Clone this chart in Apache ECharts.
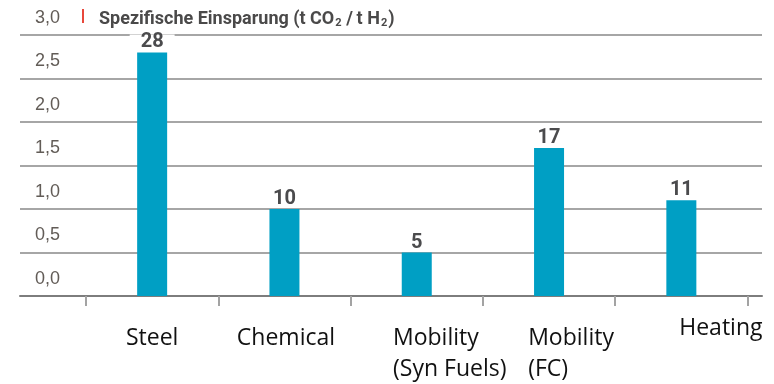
<!DOCTYPE html>
<html>
<head>
<meta charset="utf-8">
<script src="https://cdn.jsdelivr.net/npm/echarts@6/dist/echarts.min.js"></script>
<style>
  html, body { margin: 0; padding: 0; background: #ffffff; }
  #chart { width: 774px; height: 384px; }
</style>
</head>
<body>
<div id="chart"></div>
<script>
// Savings per sector (bar values shown above the bars)
const categories = ['Steel', 'Chemical', 'Mobility\n(Syn Fuels)', 'Mobility\n(FC)', 'Heating'];
const savings = [28, 10, 5, 17, 11];
const yTickLabels = ['0,0', '0,5', '1,0', '1,5', '2,0', '2,5', '3,0'];
const yMin = 0;
const yMax = 30;
const yStep = 5;

const headFont = "Roboto, 'Liberation Sans', Arial, sans-serif";
const catFont = "'Open Sans', 'Noto Sans', sans-serif";

// per-category label placement tweaks
const catLabelStyle = [
  { padding: [10, 0, 0, 0] },
  { padding: [10, 0, 0, 3] },
  { padding: [10, 0, 0, 66] },
  { padding: [10, 0, 0, 44] },
  { padding: [0, 0, 0, 79] }
];

const chart = echarts.init(document.getElementById('chart'), null, { renderer: 'canvas' });

chart.setOption({
  animation: false,
  backgroundColor: '#ffffff',
  title: {
    left: 82,
    top: 9,
    padding: 0,
    text: '{bar|}{sp|}{t|Spezifische Einsparung (t CO}{s|2}{t|\u2009/\u2009t H}{s|2}{t|)}',
    textStyle: {
      rich: {
        bar: { width: 2, height: 14, backgroundColor: '#e8473b', verticalAlign: 'top' },
        sp: { width: 15, height: 14 },
        t: { fontFamily: headFont, fontWeight: 'bold', fontSize: 18, lineHeight: 20, color: '#4a4949' },
        s: { fontFamily: headFont, fontWeight: 'bold', fontSize: 11, lineHeight: 11, color: '#4a4949', verticalAlign: 'bottom', padding: [0, 1, 0, 1] }
      }
    }
  },
  grid: [
    { left: 20, right: 12, top: 35, bottom: 88, containLabel: false },
    { left: 86, right: 26.5, top: 35, bottom: 88, containLabel: false }
  ],
  xAxis: [
    {
      gridIndex: 0, type: 'value', min: 0, max: 1,
      axisLine: { show: true, lineStyle: { color: '#7d7d7d', width: 2 } },
      axisTick: { show: false }, axisLabel: { show: false }, splitLine: { show: false }
    },
    {
      gridIndex: 1, type: 'category',
      data: categories.map((c, i) => ({ value: c, textStyle: catLabelStyle[i] })),
      axisLine: { show: false },
      axisTick: { show: true, length: 10, lineStyle: { color: '#a3a3a3', width: 2 } },
      axisLabel: {
        interval: 0,
        margin: 17,
        verticalAlign: 'top',
        formatter: (v) => v.split('\n').map(s => '{l|' + s + '}').join('\n'),
        rich: {
          l: { fontFamily: catFont, fontSize: 23, lineHeight: 31, color: '#111111', align: 'left' }
        }
      }
    }
  ],
  yAxis: [
    {
      gridIndex: 0, type: 'value', min: yMin, max: yMax, interval: yStep,
      axisLine: { show: false }, axisTick: { show: false },
      splitLine: { show: true, lineStyle: { color: '#a6a6a6', width: 2 } },
      axisLabel: {
        inside: true, margin: 15,
        verticalAlign: 'bottom', lineHeight: 18, padding: [0, 0, 8, 0],
        fontFamily: "'Liberation Sans', Arial, sans-serif", fontSize: 18, color: '#625c57',
        formatter: (v) => yTickLabels[Math.round((v - yMin) / yStep)]
      }
    },
    {
      gridIndex: 1, type: 'value', min: yMin, max: yMax, interval: yStep,
      show: false, splitLine: { show: false }
    }
  ],
  series: [
    {
      type: 'bar',
      xAxisIndex: 1, yAxisIndex: 1,
      data: savings,
      barWidth: 30,
      itemStyle: { color: '#009fc4' },
      label: {
        show: true, position: 'top', distance: 2,
        formatter: '{c}',
        fontFamily: headFont, fontWeight: 'bold', fontSize: 20, lineHeight: 16,
        color: '#4b4b4d', backgroundColor: '#ffffff', padding: [0, 11]
      },
      z: 3
    }
  ]
});
</script>
</body>
</html>
